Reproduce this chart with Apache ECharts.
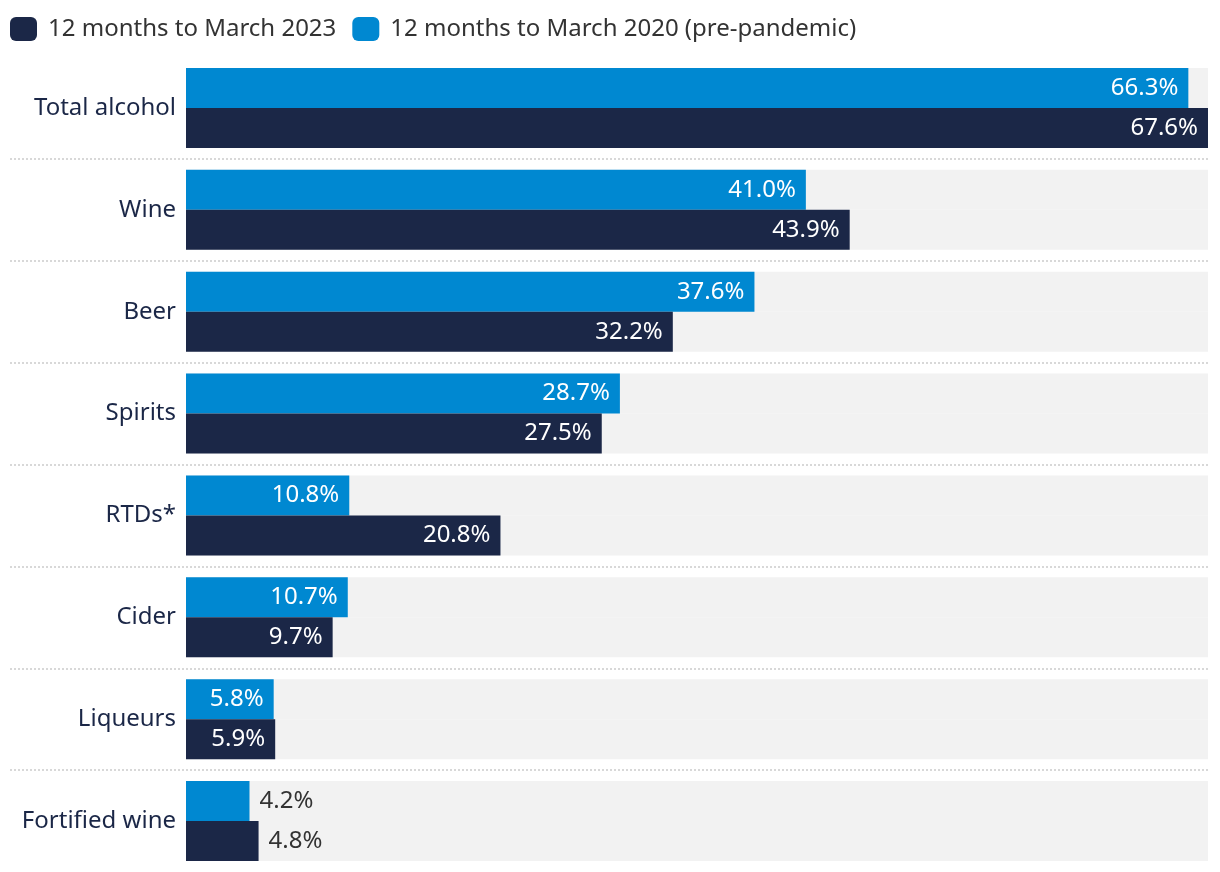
<!DOCTYPE html>
<html>
<head>
<meta charset="utf-8">
<script src="https://cdn.jsdelivr.net/npm/echarts@6/dist/echarts.min.js"></script>
<style>
html,body{margin:0;padding:0;background:#fff;}
#chart{width:1220px;height:872px;}
</style>
</head>
<body>
<div id="chart"></div>
<script>
const categories = ['Total alcohol','Wine','Beer','Spirits','RTDs*','Cider','Liqueurs','Fortified wine'];
const series2020Name = '12 months to March 2020 (pre-pandemic)';
const series2023Name = '12 months to March 2023';
const values2020 = [66.3, 41.0, 37.6, 28.7, 10.8, 10.7, 5.8, 4.2];
const values2023 = [67.6, 43.9, 32.2, 27.5, 20.8, 9.7, 5.9, 4.8];

const FONT = 'Noto Sans';
const NAVY = '#1b2747';
const BLUE = '#0088d1';

function toItems(vals) {
  return vals.map(v => v < 5 ? {
    value: v,
    label: { position: 'right', color: '#333333', distance: 10 }
  } : v);
}

const chart = echarts.init(document.getElementById('chart'), null, { renderer: 'canvas' });
const labelCommon = {
  show: true,
  position: 'insideRight',
  distance: 10,
  color: '#ffffff',
  fontFamily: FONT,
  fontSize: 24,
  formatter: p => p.value.toFixed(1) + '%'
};
chart.setOption({
  animation: false,
  textStyle: { fontFamily: FONT },
  legend: {
    left: 10,
    top: 17,
    padding: 0,
    itemWidth: 27,
    itemHeight: 24,
    itemGap: 16,
    icon: 'roundRect',
    data: [series2023Name, series2020Name],
    textStyle: { fontFamily: FONT, fontSize: 24, color: '#333333', padding: [0, 0, 0, 6] }
  },
  grid: [
    { left: 186, right: 12, top: 57, bottom: 0 },
    { left: 10, right: 12, top: 57, bottom: 0 }
  ],
  xAxis: [
    { type: 'value', gridIndex: 0, min: 0, max: 'dataMax', show: false },
    { type: 'value', gridIndex: 1, min: 0, max: 1, show: false }
  ],
  yAxis: [
    {
      type: 'category', gridIndex: 0, data: categories, inverse: true,
      axisLine: { show: false }, axisTick: { show: false }, splitLine: { show: false },
      axisLabel: { fontFamily: FONT, fontSize: 24, color: NAVY, margin: 10 }
    },
    {
      type: 'category', gridIndex: 1, data: categories, inverse: true,
      axisLine: { show: false }, axisTick: { show: false }, axisLabel: { show: false },
      splitLine: { show: true, showMinLine: false, showMaxLine: false,
        lineStyle: { color: '#cccccc', type: [2, 2], width: 1.5 } }
    }
  ],
  series: [
    {
      name: series2020Name, type: 'bar', xAxisIndex: 0, yAxisIndex: 0,
      data: toItems(values2020), barWidth: 40, barGap: '0%',
      itemStyle: { color: BLUE },
      showBackground: true, backgroundStyle: { color: '#f2f2f2' },
      label: labelCommon
    },
    {
      name: series2023Name, type: 'bar', xAxisIndex: 0, yAxisIndex: 0,
      data: toItems(values2023), barWidth: 40, barGap: '0%',
      itemStyle: { color: NAVY },
      showBackground: true, backgroundStyle: { color: '#f2f2f2' },
      label: labelCommon
    }
  ]
});
</script>
</body>
</html>
